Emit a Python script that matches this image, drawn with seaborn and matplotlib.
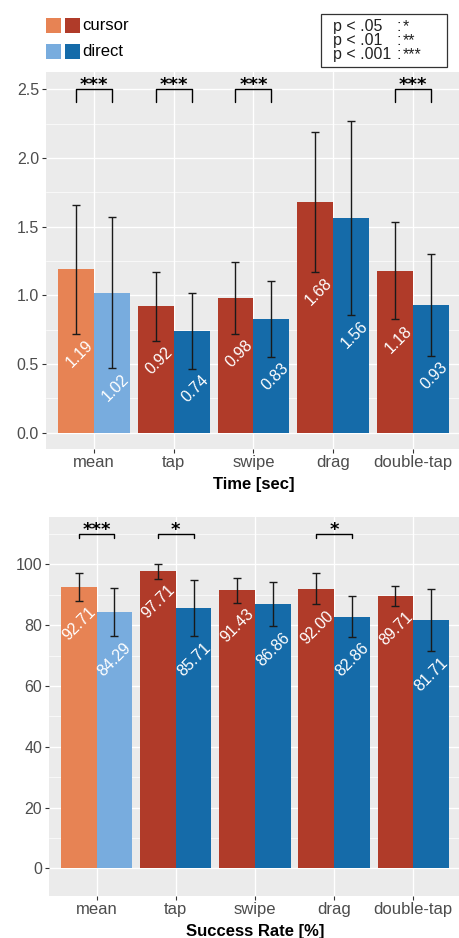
import numpy as np
import pandas as pd
import matplotlib
matplotlib.use('Agg')
import matplotlib.pyplot as plt
import seaborn as sns
from matplotlib.patches import Rectangle
from matplotlib.ticker import MultipleLocator

# --- data ---
tasks = ['mean', 'tap', 'swipe', 'drag', 'double-tap']

time_cursor = [1.19, 0.92, 0.98, 1.68, 1.18]
time_direct = [1.02, 0.74, 0.83, 1.56, 0.93]
time_cursor_sd = [0.47, 0.25, 0.26, 0.51, 0.355]
time_direct_sd = [0.55, 0.275, 0.277, 0.705, 0.37]
time_sig = ['***', '***', '***', '', '***']

rate_cursor = [92.71, 97.71, 91.43, 92.00, 89.71]
rate_direct = [84.29, 85.71, 86.86, 82.86, 81.71]
rate_cursor_sd = [4.6, 2.4, 4.0, 5.1, 3.3]
rate_direct_sd = [8.0, 9.3, 7.2, 6.6, 10.2]
rate_sig = ['***', '*', '', '*', '']

sig_levels = ['p < .05', 'p < .01', 'p < .001']
sig_marks = ['*', '**', '***']

ORANGE, RED = '#E78354', '#B03B29'
LIGHTBLUE, BLUE = '#78ACDE', '#156BA9'

sns.set_theme(style='darkgrid', rc={'axes.facecolor': '#EBEBEB', 'grid.color': 'white'})
plt.rcParams['font.family'] = ['Liberation Sans', 'DejaVu Sans']

W, H = 459, 938
fig = plt.figure(figsize=(W / 100, H / 100), dpi=100)
ax1 = fig.add_axes([46 / W, 1 - 449 / H, (460.9 - 46) / W, (449 - 72) / H])
ax2 = fig.add_axes([49 / W, 1 - 896 / H, (460.8 - 49) / W, (896 - 516.7) / H])


def draw_panel(ax, cursor, direct, cursor_sd, direct_sd, sig, ylim, major, minor,
               xlabel, bracket_y, bracket_drop):
    df = pd.DataFrame({
        'task': tasks * 2,
        'value': cursor + direct,
        'device': ['cursor'] * len(tasks) + ['direct'] * len(tasks),
    })
    sns.barplot(data=df, x='task', y='value', hue='device',
                palette={'cursor': RED, 'direct': BLUE}, errorbar=None,
                width=0.9, saturation=1, linewidth=0, legend=False, ax=ax)

    centers = []
    for cont, sds, light in zip(ax.containers, [cursor_sd, direct_sd], [ORANGE, LIGHTBLUE]):
        cs = []
        for i, (bar, sd) in enumerate(zip(cont, sds)):
            xc = bar.get_x() + bar.get_width() / 2
            y = bar.get_height()
            cs.append(xc)
            if tasks[i] == 'mean':
                bar.set_facecolor(light)
            ax.errorbar(xc, y, yerr=sd, color='#1a1a1a', lw=1, capsize=2.9,
                        capthick=1, zorder=4)
            ax.annotate(f'{y:.2f}', xy=(xc, y - sd), xytext=(10.5, -6.5),
                        textcoords='offset points', rotation=45,
                        rotation_mode='anchor', ha='right', va='center',
                        color='white', fontsize=11.5, zorder=5)
        centers.append(cs)

    # significance brackets
    for i, s in enumerate(sig):
        if not s:
            continue
        x0, x1 = centers[0][i], centers[1][i]
        ax.plot([x0, x0, x1, x1],
                [bracket_y - bracket_drop, bracket_y, bracket_y, bracket_y - bracket_drop],
                color='black', lw=1, zorder=4)
        ax.annotate(s, xy=((x0 + x1) / 2, bracket_y), xytext=(0, -0.5),
                    textcoords='offset points', ha='center', va='baseline',
                    fontsize=13, fontweight='bold', family='DejaVu Sans', color='black')

    ax.set_xlim(-0.6, len(tasks) - 0.4)
    ax.set_ylim(*ylim)
    ax.yaxis.set_major_locator(MultipleLocator(major))
    ax.yaxis.set_minor_locator(MultipleLocator(minor))
    ax.grid(which='major', color='white', lw=0.95)
    ax.grid(which='minor', axis='y', color='white', lw=0.5)
    ax.tick_params(axis='both', which='major', left=True, bottom=True, length=3,
                   width=0.8, color='#333333', labelcolor='#4D4D4D', pad=2)
    ax.tick_params(axis='x', which='major', pad=1)
    ax.tick_params(axis='y', which='major', labelsize=11.5)
    ax.tick_params(axis='x', which='major', labelsize=12)
    ax.tick_params(axis='y', which='minor', length=0)
    for sp in ax.spines.values():
        sp.set_visible(False)
    ax.set_ylabel('')
    ax.set_xlabel(xlabel, fontweight='bold', fontsize=12, color='black', labelpad=5)


draw_panel(ax1, time_cursor, time_direct, time_cursor_sd, time_direct_sd, time_sig,
           (-0.119, 2.625), 0.5, 0.25, 'Time [sec]', 2.5, 0.092)
draw_panel(ax2, rate_cursor, rate_direct, rate_cursor_sd, rate_direct_sd, rate_sig,
           (-9.1, 115.7), 20, 10, 'Success Rate [%]', 110, 1.45)

# device legend (two swatches per entry)
for row, (label, light, dark) in enumerate([('cursor', ORANGE, RED),
                                            ('direct', LIGHTBLUE, BLUE)]):
    top = 18 + row * 26
    for j, c in enumerate([light, dark]):
        x0 = 46 + j * 19
        fig.add_artist(Rectangle((x0 / W, 1 - (top + 15) / H), 15 / W, 15 / H,
                                 transform=fig.transFigure, facecolor=c, edgecolor='none'))
    fig.text(82 / W, 1 - (top + 7.5) / H, label, ha='left', va='center',
             fontsize=12, color='black')

# significance legend box
fig.add_artist(Rectangle((321 / W, 1 - 67 / H), 126 / W, 53 / H,
                         transform=fig.transFigure, facecolor='white',
                         edgecolor='#333333', lw=0.9))
for k, (lvl, mk) in enumerate(zip(sig_levels, sig_marks)):
    yb = 1 - (31 + k * 14.2) / H
    fig.text(333 / W, yb, lvl, ha='left', va='baseline', fontsize=11.5, color='#222222')
    fig.text(397 / W, yb, ':', ha='left', va='baseline', fontsize=11.5, color='#222222')
    fig.text(403 / W, yb, mk, ha='left', va='baseline', fontsize=11.5, color='#222222')

fig.savefig('out.png', dpi=100)
